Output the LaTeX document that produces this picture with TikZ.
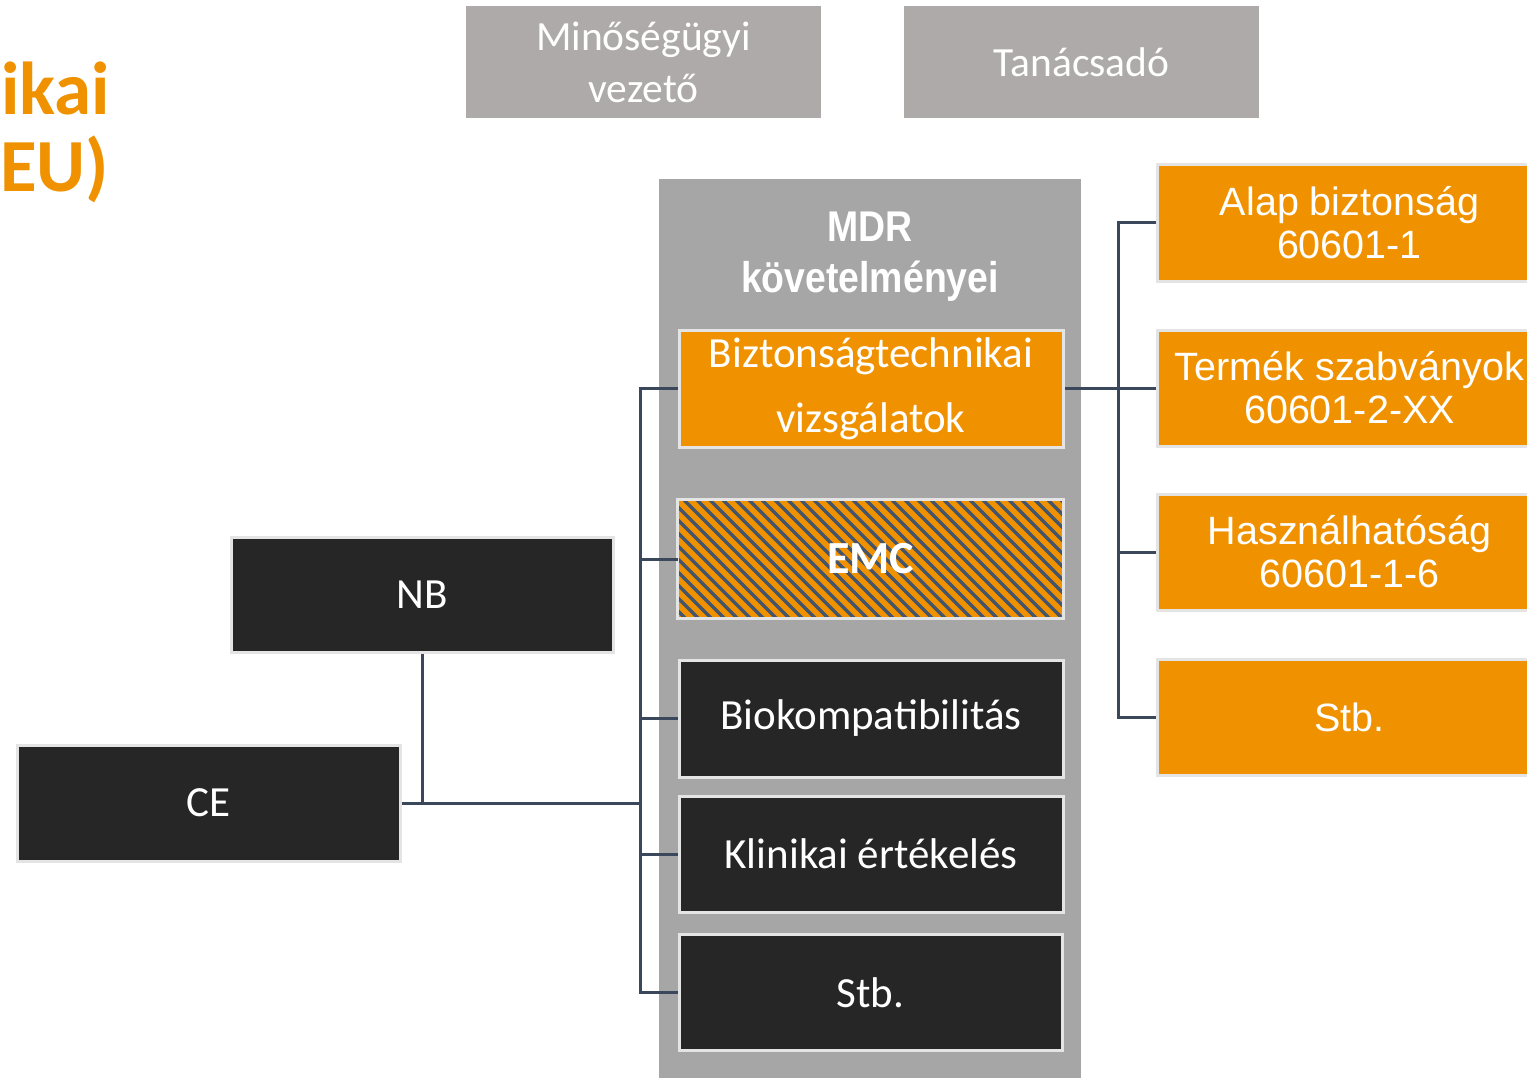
\documentclass[tikz,border=0pt]{standalone}
\usepackage{fontspec}
\setmainfont{Carlito}
\newfontfamily\arialf{Liberation Sans}
\newfontfamily\narrowf[FakeStretch=0.87]{Liberation Sans Bold}
\definecolor{org}{RGB}{240,146,0}
\definecolor{topgray}{RGB}{174,170,169}
\definecolor{biggray}{RGB}{166,166,166}
\definecolor{darkbg}{RGB}{38,38,38}
\definecolor{connc}{RGB}{59,72,92}
\definecolor{stripec}{RGB}{68,84,106}
\definecolor{bordc}{RGB}{228,228,228}
\tikzset{
  box/.style={inner sep=0pt, minimum width=383, minimum height=116, draw=bordc, line width=3pt, text=white, align=center},
  orgbox/.style={box, fill=org},
  darkbox/.style={box, fill=darkbg, font=\fontsize{43}{50}\selectfont},
  rbox/.style={box, fill=org, minimum width=384, font=\arialf\fontsize{39.5}{43}\selectfont},
  topbox/.style={inner sep=0pt, minimum width=355, minimum height=112, fill=topgray, text=white, align=center, font=\fontsize{41.5}{52}\selectfont},
  conn/.style={draw=connc, line width=3pt},
  titletext/.style={anchor=base west, inner sep=0pt, text=org, font=\bfseries\fontsize{75}{75}\selectfont},
}
\begin{document}
\begin{tikzpicture}[x=1pt,y=-1pt]
\useasboundingbox (0,0) rectangle (1527,1077);
\fill[white] (0,0) rectangle (1527,1077);
\clip (0,0) rectangle (1527,1077);

% title fragment
\node[titletext] (t1) at (1,114) {ikai};
\node[titletext] (t2) at (0,191) {EU)};

% top boxes
\node[topbox] (mq) at (643.5,62) {\raisebox{-2pt}{Minőségügyi}\\\raisebox{-2pt}{vezető}};
\node[topbox] (tan) at (1081.5,62) {\raisebox{-1pt}{Tanácsadó}};

% MDR container
\node[anchor=north west, inner sep=0pt, minimum width=422, minimum height=920, fill=biggray] (mdr) at (659,179) {};
\node[text=white, align=center, inner sep=0pt, font=\narrowf\fontsize{43}{51}\selectfont] (mdrt) at (870,257) {MDR\\követelményei};

% inner boxes
\node[orgbox, minimum width=384, minimum height=117, font=\fontsize{43}{65}\selectfont] (bizt) at (871,388.5) {\raisebox{-2pt}{Biztonságtechnikai}\\\raisebox{-2pt}{vizsgálatok}};
\node[orgbox, draw=none] (emc) at (870.5,559) {};
\begin{scope}
  \clip (emc.south west) rectangle (emc.north east);
  \foreach \k in {-130,-117,...,400} {
    \draw[stripec, line width=3.4pt] (679+\k,495) -- (679+\k+130,625);
  }
\end{scope}
\draw[bordc, line width=3pt] (emc.south west) rectangle (emc.north east);
\node[text=white, inner sep=0pt, font=\bfseries\fontsize{46}{50}\selectfont] (emct) at (emc.center) {EMC};

\node[darkbox, minimum width=384, minimum height=117] (bio) at (871,718.5) {Biokompatibilitás};
\node[darkbox, minimum width=384] (klin) at (871,854) {Klinikai értékelés};
\node[darkbox] (stba) at (870.5,992.5) {Stb.};

% left boxes
\node[darkbox, minimum width=382, minimum height=115] (nb) at (422,594.5) {NB};
\node[darkbox] (ce) at (208.5,803) {CE};

% right boxes
\node[rbox, anchor=west, minimum height=117] (alap) at (1156,222.5) {Alap biztonság\\60601-1};
\node[rbox, anchor=west] (term) at (1156,388) {Termék szabványok\\60601-2-XX};
\node[rbox, anchor=west] (hasz) at (1156,552) {Használhatóság\\60601-1-6};
\node[rbox, anchor=west] (stbb) at (1156,717) {Stb.};

% connectors left
\coordinate (lb) at (640,0);
\draw[conn] (bizt.west) -- (bizt.west -| lb) -- (stba.west -| lb) -- (stba.west);
\draw[conn] (emc.west -| lb) -- (emc.west);
\draw[conn] (bio.west -| lb) -- (bio.west);
\draw[conn] (klin.west -| lb) -- (klin.west);
\draw[conn] (ce.east) -- (ce.east -| lb);
\draw[conn] (nb.south) -- (nb.south |- ce.east);

% connectors right
\coordinate (rb) at (1118,0);
\draw[conn] (bizt.east) -- (bizt.east -| rb);
\draw[conn] (alap.west) -- (alap.west -| rb) -- (stbb.west -| rb) -- (stbb.west);
\draw[conn] (term.west -| rb) -- (term.west);
\draw[conn] (hasz.west -| rb) -- (hasz.west);
\end{tikzpicture}
\end{document}
